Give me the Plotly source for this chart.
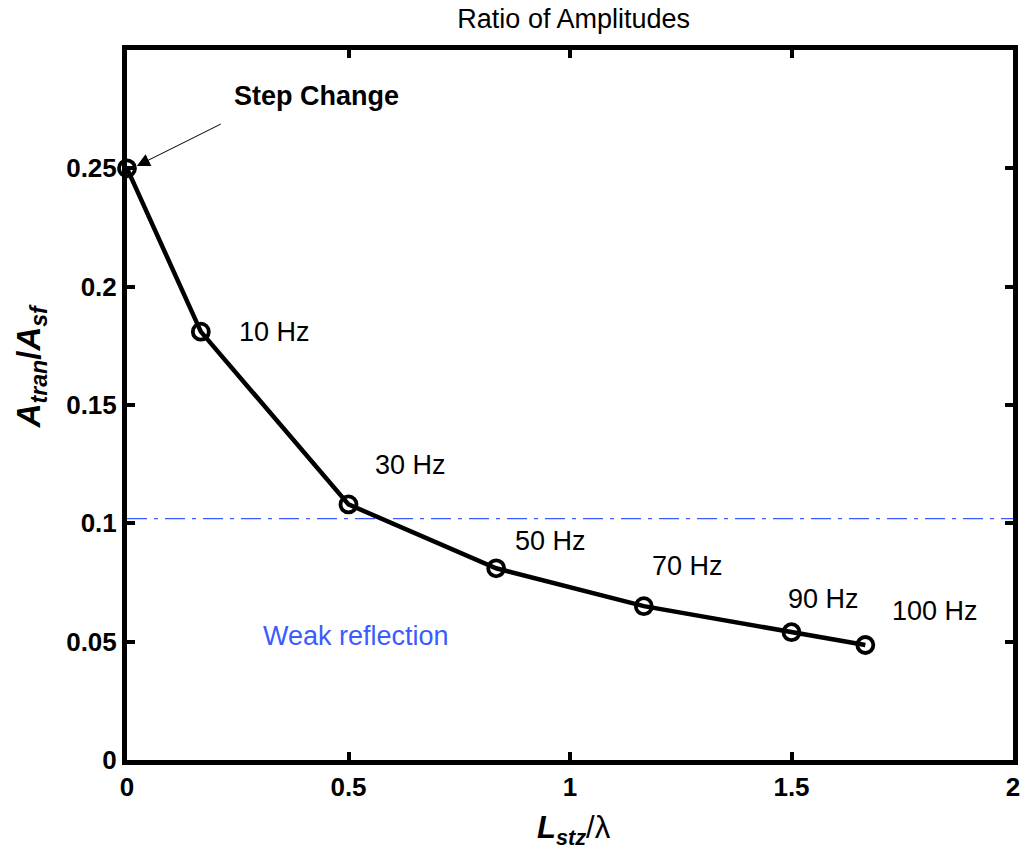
import plotly.graph_objects as go

# Data
x_ratio = [0, 1/6, 0.5, 5/6, 7/6, 1.5, 5/3]
amp_ratio = [0.25, 0.181, 0.108, 0.081, 0.065, 0.054, 0.0486]
freq_labels = ["10 Hz", "30 Hz", "50 Hz", "70 Hz", "90 Hz", "100 Hz"]
label_x = [0.334, 0.640, 0.955, 1.265, 1.572, 1.825]
label_y = [0.181, 0.1245, 0.0926, 0.0820, 0.0680, 0.0629]
threshold = 0.102
x_ticks = [0, 0.5, 1, 1.5, 2]
x_ticktext = ["0", "0.5", "1", "1.5", "2"]
y_ticks = [0, 0.05, 0.1, 0.15, 0.2, 0.25]
y_ticktext = ["0", "0.05", "0.1", "0.15", "0.2", "0.25"]

fig = go.Figure()

fig.add_trace(go.Scatter(
    x=[0, 2], y=[threshold, threshold], mode="lines",
    line=dict(color="#3a5cff", width=1.3, dash="20px,7px,4px,7px"),
    showlegend=False, hoverinfo="skip"))

fig.add_trace(go.Scatter(
    x=x_ratio, y=amp_ratio, mode="lines+markers",
    line=dict(color="black", width=4.5),
    marker=dict(symbol="circle-open", size=16, color="black", line=dict(width=3.8, color="black")),
    showlegend=False, cliponaxis=False))

font_base = "Liberation Sans, Arial, sans-serif"
FS = 27

for t, lx, ly in zip(freq_labels, label_x, label_y):
    fig.add_annotation(x=lx, y=ly, text=t, showarrow=False,
                       font=dict(size=FS, color="black", family=font_base))

fig.add_annotation(x=0.518, y=0.0524, text="Weak reflection", showarrow=False,
                   font=dict(size=FS, color="#3a5cff", family=font_base))

fig.add_annotation(x=0.006, y=0.2495, ax=0.215, ay=0.269, axref="x", ayref="y",
                   text="", showarrow=True, arrowhead=2, arrowsize=2.6, arrowwidth=1,
                   arrowcolor="black", standoff=8)
fig.add_annotation(x=0.428, y=0.2805, text="<b>Step Change</b>", showarrow=False,
                   font=dict(size=FS, color="black", family=font_base))

# Axis titles as annotations
fig.add_annotation(xref="paper", yref="paper", x=-0.108, y=0.555,
                   xanchor="center", yanchor="middle", textangle=-90, showarrow=False,
                   text="<b><i>A</i><sub><i>tran</i></sub>/<i>A</i><sub><i>sf</i></sub></b>",
                   font=dict(size=33, color="black", family=font_base))
fig.add_annotation(xref="paper", yref="paper", x=0.505, y=-0.098,
                   xanchor="center", yanchor="middle", showarrow=False,
                   text="<b><i>L</i></b><sub><b><i>stz</i></b></sub>/λ",
                   font=dict(size=31, color="black", family=font_base))

axis_common = dict(
    showline=True, linewidth=5, linecolor="black", mirror="ticks",
    ticks="inside", ticklen=8, tickwidth=4, tickcolor="black",
    showgrid=False, zeroline=False,
    tickfont=dict(size=26, color="black", family=font_base, weight="bold"),
)

fig.update_layout(
    width=1029, height=851,
    margin=dict(l=127, r=9, t=50, b=91),
    paper_bgcolor="white", plot_bgcolor="white",
    title=dict(text="Ratio of Amplitudes", x=0.5575, xanchor="center", y=0.978, yanchor="middle",
               font=dict(size=FS, color="black", family=font_base)),
    xaxis=dict(range=[0, 2], tickvals=x_ticks, ticktext=x_ticktext, **axis_common),
    yaxis=dict(range=[0, 0.3], tickvals=y_ticks, ticktext=y_ticktext, **axis_common),
)

fig.write_html("out.html")
